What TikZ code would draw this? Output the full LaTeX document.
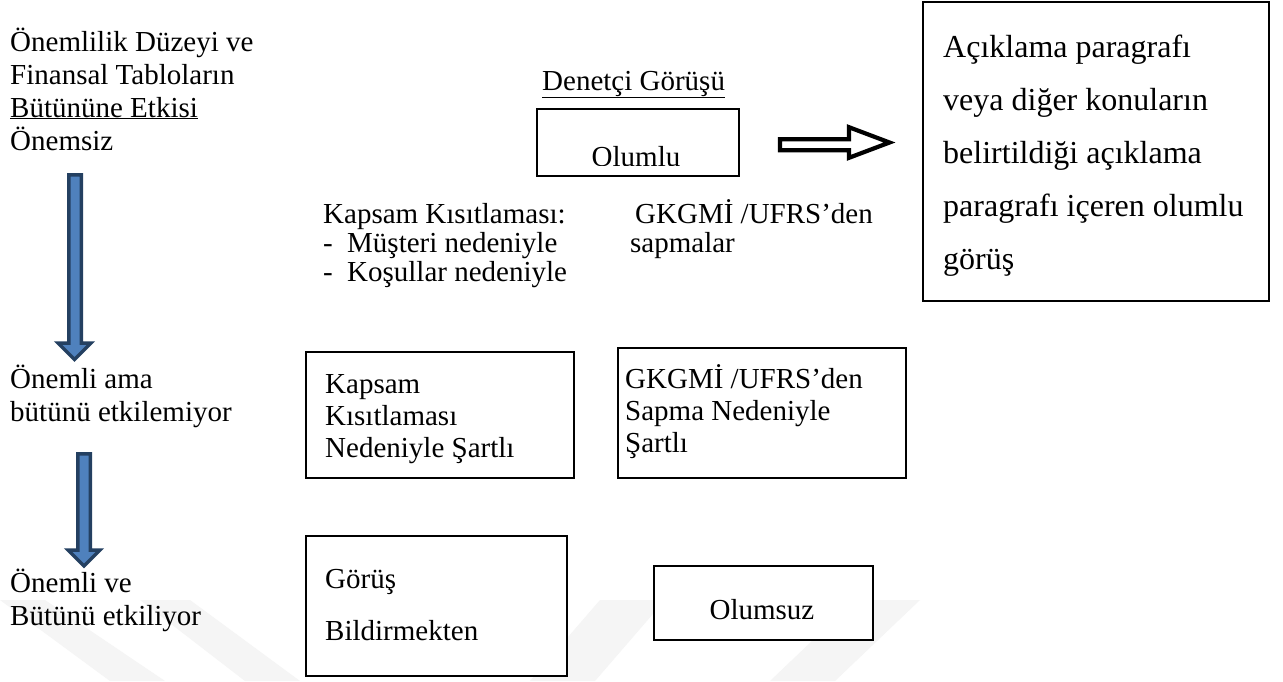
\documentclass[tikz,border=0pt]{standalone}
\usepackage{fontspec}
\setmainfont{Liberation Serif}
\definecolor{arrfill}{RGB}{79,129,189}
\definecolor{arrline}{RGB}{36,64,97}
\definecolor{wmark}{RGB}{245,245,245}
\begin{document}
\begin{tikzpicture}[x=1pt,y=-1pt,
  txt/.style={anchor=base west, inner sep=0pt, font=\fontsize{29}{33}\selectfont},
  bigtxt/.style={anchor=base west, inner sep=0pt, font=\fontsize{32}{36}\selectfont},
  boxn/.style={draw=black, line width=1.6pt, fill=white, inner sep=0pt, anchor=north west},
  bluearrow/.style={fill=arrfill, draw=arrline, line width=3.5pt, line join=miter},
  hollowarrow/.style={fill=white, draw=black, line width=4.2pt, line join=miter},
  wm/.style={fill=wmark, draw=none}]
\useasboundingbox (0,0) rectangle (1283,681);
\fill[white] (0,0) rectangle (1283,681);
% faint watermark stripes
\fill[wm] (0,600) -- (45,600) -- (165,681) -- (110,681) -- cycle;
\fill[wm] (140,600) -- (190,600) -- (300,681) -- (245,681) -- cycle;
\fill[wm] (600,600) -- (665,600) -- (595,681) -- (530,681) -- cycle;
\fill[wm] (855,600) -- (920,600) -- (835,681) -- (770,681) -- cycle;

% boxes
\node[boxn, minimum width=202pt, minimum height=67pt] (olumlubox) at (536,108) {};
\node[boxn, minimum width=346pt, minimum height=299pt] (rightbox) at (922,1) {};
\node[boxn, minimum width=268pt, minimum height=126pt] (boxA) at (305,351) {};
\node[boxn, minimum width=288pt, minimum height=130pt] (boxB) at (617,347) {};
\node[boxn, minimum width=261pt, minimum height=140pt] (boxC) at (305,535) {};
\node[boxn, minimum width=219pt, minimum height=74pt] (boxD) at (653,565) {};

% left column
\node[txt] (l1) at (10,51) {Önemlilik Düzeyi ve};
\node[txt] (l2) at (10,84) {Finansal Tabloların};
\node[txt] (l3) at (10,117) {\underline{Bütününe Etkisi}};
\node[txt] (l4) at (10,150) {Önemsiz};
\node[txt] (l5) at (10,388) {Önemli ama};
\node[txt] (l6) at (10,421) {bütünü etkilemiyor};
\node[txt] (l7) at (10,592) {Önemli ve};
\node[txt] (l8) at (10,625) {Bütünü etkiliyor};

% middle
\node[txt] (dg) at (542,90) {\underline{Denetçi Görüşü}};
\begin{scope}
\clip (537,109) rectangle (737,165.5);
\node[txt, anchor=base] (olumlu) at (636,166) {Olumlu};
\end{scope}
\node[txt] (k1) at (323,223) {Kapsam Kısıtlaması:};
\node[txt] (k2) at (323,252) {-};
\node[txt] (k2b) at (347,252) {Müşteri nedeniyle};
\node[txt] (k3) at (323,281) {-};
\node[txt] (k3b) at (347,281) {Koşullar nedeniyle};
\node[txt] (g1) at (635,223) {GKGMİ /UFRS’den};
\node[txt] (g2) at (630,252) {sapmalar};

% box texts
\node[txt] (a1) at (325,393) {Kapsam};
\node[txt] (a2) at (325,425) {Kısıtlaması};
\node[txt] (a3) at (325,457) {Nedeniyle Şartlı};
\node[txt] (b1) at (625,388) {GKGMİ /UFRS’den};
\node[txt] (b2) at (625,420) {Sapma Nedeniyle};
\node[txt] (b3) at (625,452) {Şartlı};
\node[txt] (c1) at (325,588) {Görüş};
\node[txt] (c2) at (325,640) {Bildirmekten};
\node[txt, anchor=base] (d1) at (762,619) {Olumsuz};

\node[bigtxt] (r1) at (943,57) {Açıklama paragrafı};
\node[bigtxt] (r2) at (943,110) {veya diğer konuların};
\node[bigtxt] (r3) at (943,163) {belirtildiği açıklama};
\node[bigtxt] (r4) at (943,216) {paragrafı içeren olumlu};
\node[bigtxt] (r5) at (943,269) {görüş};

% blue block arrows
\draw[bluearrow] (68.75,174.75) -- (81.25,174.75) -- (81.25,343) -- (91,343) -- (74.5,359.5)
  -- (58,343) -- (68.75,343) -- cycle;
\draw[bluearrow] (77.75,453.75) -- (90.25,453.75) -- (90.25,550) -- (100,550) -- (84,566)
  -- (68,550) -- (77.75,550) -- cycle;

% hollow block arrow
\draw[hollowarrow] (780,139.2) -- (849,139.2) -- (849,127.2) -- (889.5,142.5) -- (849,157.8)
  -- (849,150.2) -- (780,150.2) -- cycle;
\end{tikzpicture}
\end{document}
